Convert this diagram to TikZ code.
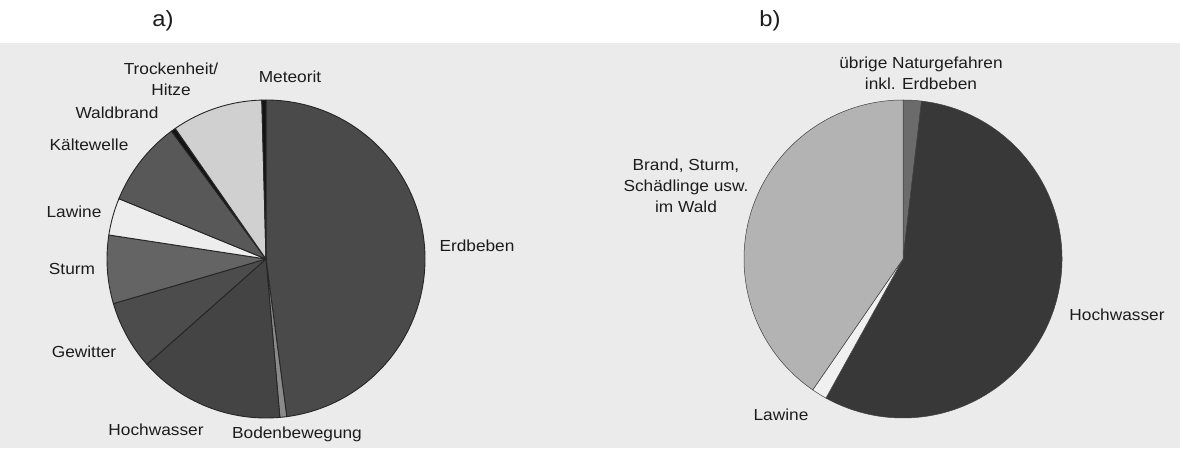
\documentclass[tikz,border=0pt]{standalone}
\usepackage{fontspec}
\setmainfont[FakeStretch=1.08]{Liberation Sans}
\definecolor{bggray}{HTML}{EBEBEB}
\definecolor{txt}{HTML}{1C1C1C}
\definecolor{cErd}{HTML}{4A4A4A}
\definecolor{cBod}{HTML}{8A8A8A}
\definecolor{cHoch}{HTML}{444444}
\definecolor{cGew}{HTML}{4C4C4C}
\definecolor{cStu}{HTML}{646464}
\definecolor{cLaw}{HTML}{EDEDED}
\definecolor{cKae}{HTML}{585858}
\definecolor{cWal}{HTML}{141414}
\definecolor{cTro}{HTML}{D0D0D0}
\definecolor{cMet}{HTML}{141414}
\definecolor{bBra}{HTML}{B3B3B3}
\definecolor{bHoch}{HTML}{383838}
\definecolor{bUeb}{HTML}{6B6B6B}
\definecolor{bLaw}{HTML}{F0F0F0}
\newcommand{\myslice}[5]{%
  \filldraw[#5, fill=#4] (#1) -- ++(#2:159pt) arc[start angle=#2, end angle=#3, radius=159pt] -- cycle;}
\begin{document}
\begin{tikzpicture}[x=1pt,y=1pt,
  lbl/.style={font=\fontsize{16}{21}\selectfont, text=txt, inner sep=0pt, align=center},
  sla/.style={draw=black!85, line width=0.9pt, line join=round},
  slb/.style={draw=black!75, line width=0.5pt, line join=round}]
\useasboundingbox (0,0) rectangle (1180,448);
\fill[white] (0,0) rectangle (1180,448);
\fill[bggray] (0,0) rectangle (1180,405);
% pie a
\coordinate (ca) at (266,189);
\myslice{ca}{90}{-82.5}{cErd}{sla}
\myslice{ca}{-82.5}{-85}{cBod}{sla}
\myslice{ca}{-85}{-138.5}{cHoch}{sla}
\myslice{ca}{-138.5}{-163.7}{cGew}{sla}
\myslice{ca}{-163.7}{-188.7}{cStu}{sla}
\myslice{ca}{-188.7}{-202.3}{cLaw}{sla}
\myslice{ca}{-202.3}{-233.5}{cKae}{sla}
\myslice{ca}{-233.5}{-235.2}{cWal}{sla}
\myslice{ca}{-235.2}{-268.5}{cTro}{sla}
\myslice{ca}{-268.5}{-270}{cMet}{sla}
% pie b
\coordinate (cb) at (903,189);
\myslice{cb}{90}{83.3}{bUeb}{slb}
\myslice{cb}{83.3}{-119}{bHoch}{slb}
\myslice{cb}{-119}{-124.6}{bLaw}{slb}
\myslice{cb}{-124.6}{-270}{bBra}{slb}
% labels
\node[lbl, font=\fontsize{22}{24}\selectfont] (la) at (163,427) {a)};
\node[lbl, font=\fontsize{22}{24}\selectfont] (lb) at (770,427) {b)};
\node[lbl] (tro) at (171,369) {Trockenheit/\\Hitze};
\node[lbl] (met) at (290,371) {Meteorit};
\node[lbl] (wal) at (117,335) {Waldbrand};
\node[lbl] (kae) at (89,303) {Kältewelle};
\node[lbl] (law) at (74,236) {Lawine};
\node[lbl] (stu) at (72,179) {Sturm};
\node[lbl] (gew) at (84,96) {Gewitter};
\node[lbl] (hoch) at (156,18) {Hochwasser};
\node[lbl] (bod) at (297,14) {Bodenbewegung};
\node[lbl] (erd) at (477,202) {Erdbeben};
\node[lbl] (ueb) at (921,374.5) {übrige Naturgefahren\\inkl. Erdbeben};
\node[lbl] (bra) at (686,262) {Brand, Sturm,\\Schädlinge usw.\\im Wald};
\node[lbl] (hochb) at (1117,133) {Hochwasser};
\node[lbl] (lawb) at (781,33) {Lawine};
\end{tikzpicture}
\end{document}
